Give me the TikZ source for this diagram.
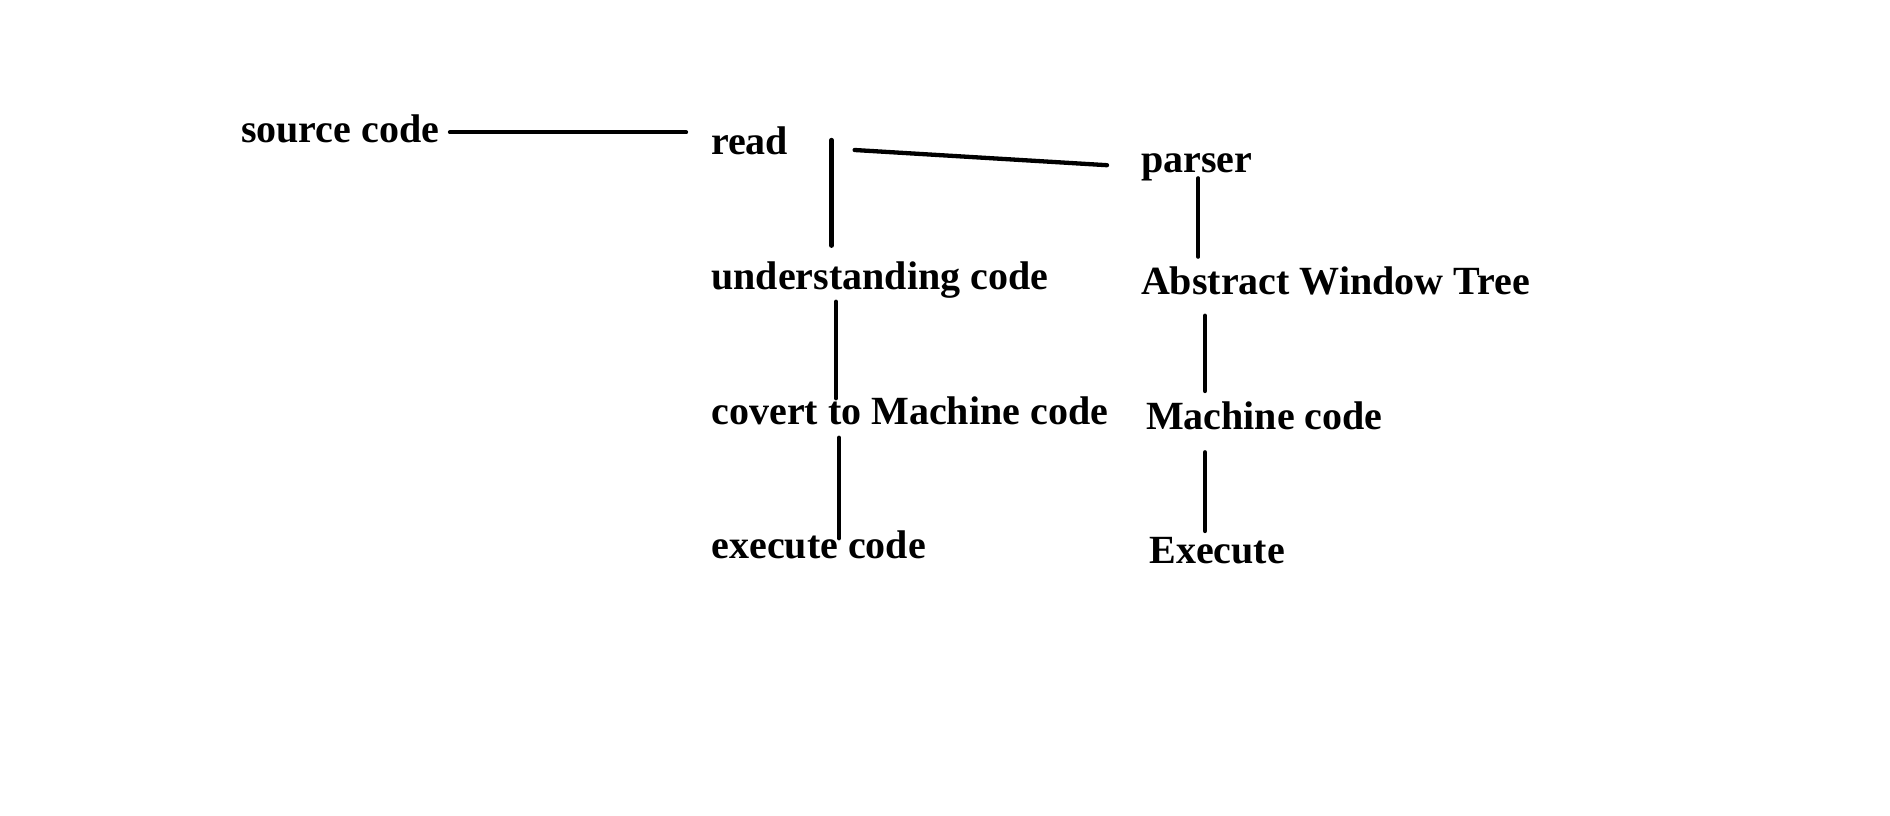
\documentclass[tikz,border=0pt]{standalone}
\usepackage{fontspec}
\setmainfont{Liberation Serif}
\begin{document}
\begin{tikzpicture}[x=1pt,y=-1pt,
  lbl/.style={anchor=base west,inner sep=0pt,outer sep=0pt,font=\fontsize{40}{48}\selectfont\bfseries},
  conn/.style={line width=4.3pt,line cap=round}]
\useasboundingbox (0,0) rectangle (1890,816);
% labels
\node[lbl] (src) at (241,142) {source code};
\node[lbl] (read) at (711,154.8) {read};
\node[lbl] (und) at (711.5,289) {understanding code};
\node[lbl] (conv) at (711.5,424.2) {covert to Machine code};
\node[lbl] (exe) at (711.5,558.8) {execute code};
\node[lbl] (parser) at (1141,172.2) {parser};
\node[lbl] (awt) at (1141,294.8) {Abstract Window Tree};
\node[lbl] (mc) at (1146,429.2) {Machine code};
\node[lbl] (Exe) at (1149.5,563.2) {Execute};
% connector ends
\coordinate (c1a) at (450,132.3);   \coordinate (c1b) at (686,132.3);
\coordinate (c2a) at (831.6,140);   \coordinate (c2b) at (831.6,245.7);
\coordinate (c3a) at (854.6,150);   \coordinate (c3b) at (1107,165.2);
\coordinate (c4a) at (836,301.7);   \coordinate (c4b) at (836,398.3);
\coordinate (c5a) at (839,437.7);   \coordinate (c5b) at (839,538.3);
\coordinate (c6a) at (1198.3,178.3); \coordinate (c6b) at (1198.3,256.7);
\coordinate (c7a) at (1205,315.7);  \coordinate (c7b) at (1205,391);
\coordinate (c8a) at (1205,452.3);  \coordinate (c8b) at (1205,531);
% connectors
\draw[conn] (c1a) -- (c1b);
\draw[conn] (c2a) -- (c2b);
\draw[conn] (c3a) -- (c3b);
\draw[conn] (c4a) -- (c4b);
\draw[conn] (c5a) -- (c5b);
\draw[conn] (c6a) -- (c6b);
\draw[conn] (c7a) -- (c7b);
\draw[conn] (c8a) -- (c8b);
\end{tikzpicture}
\end{document}
